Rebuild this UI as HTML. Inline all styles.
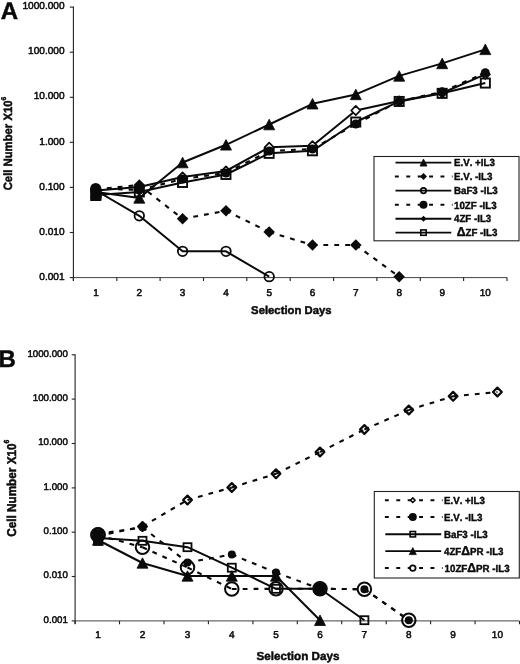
<!DOCTYPE html>
<html lang="en"><head><meta charset="utf-8"><title>Figure</title>
<style>
html,body{margin:0;padding:0;background:#fff;}
body{width:520px;height:664px;overflow:hidden;}
svg{display:block;filter:blur(.35px);}
svg text{font-family:"Liberation Sans",Arial,Helvetica,sans-serif;fill:#0a0a0a;text-rendering:geometricPrecision;}
.tk{stroke:#0a0a0a;stroke-width:.5px;paint-order:stroke;}
.bd{stroke:#0a0a0a;stroke-width:.45px;paint-order:stroke;}
.lg{font-kerning:none;stroke-width:.4px;}
</style></head><body>
<svg width="520" height="664" viewBox="0 0 520 664">
<rect width="520" height="664" fill="#fff"/>
<g stroke="#222" stroke-width="1.1" fill="none">
<path d="M73.4,6.6 V280.8"/>
<path d="M73.4,277.6 H507.0" stroke="#444" stroke-width="1"/>
<path d="M69.8,7.1 H73.4"/>
<path d="M69.8,52.2 H73.4"/>
<path d="M69.8,97.3 H73.4"/>
<path d="M69.8,142.3 H73.4"/>
<path d="M69.8,187.4 H73.4"/>
<path d="M69.8,232.5 H73.4"/>
<path d="M69.8,277.6 H73.4"/>
<path d="M73.4,277.6 v3.4"/>
<path d="M116.8,277.6 v3.4"/>
<path d="M160.1,277.6 v3.4"/>
<path d="M203.5,277.6 v3.4"/>
<path d="M246.8,277.6 v3.4"/>
<path d="M290.2,277.6 v3.4"/>
<path d="M333.6,277.6 v3.4"/>
<path d="M376.9,277.6 v3.4"/>
<path d="M420.3,277.6 v3.4"/>
<path d="M463.6,277.6 v3.4"/>
<path d="M507.0,277.6 v3.4"/>
</g>
<text x="64.6" y="9.2" font-size="10.1" font-weight="normal" text-anchor="end" class="tk">1000.000</text>
<text x="64.6" y="54.3" font-size="10.1" font-weight="normal" text-anchor="end" class="tk">100.000</text>
<text x="64.6" y="99.4" font-size="10.1" font-weight="normal" text-anchor="end" class="tk">10.000</text>
<text x="64.6" y="144.5" font-size="10.1" font-weight="normal" text-anchor="end" class="tk">1.000</text>
<text x="64.6" y="189.6" font-size="10.1" font-weight="normal" text-anchor="end" class="tk">0.100</text>
<text x="64.6" y="234.7" font-size="10.1" font-weight="normal" text-anchor="end" class="tk">0.010</text>
<text x="64.6" y="279.8" font-size="10.1" font-weight="normal" text-anchor="end" class="tk">0.001</text>
<text x="96.0" y="295.9" font-size="10" font-weight="normal" text-anchor="middle" class="tk">1</text>
<text x="139.3" y="295.9" font-size="10" font-weight="normal" text-anchor="middle" class="tk">2</text>
<text x="182.6" y="295.9" font-size="10" font-weight="normal" text-anchor="middle" class="tk">3</text>
<text x="226.0" y="295.9" font-size="10" font-weight="normal" text-anchor="middle" class="tk">4</text>
<text x="269.2" y="295.9" font-size="10" font-weight="normal" text-anchor="middle" class="tk">5</text>
<text x="312.5" y="295.9" font-size="10" font-weight="normal" text-anchor="middle" class="tk">6</text>
<text x="355.8" y="295.9" font-size="10" font-weight="normal" text-anchor="middle" class="tk">7</text>
<text x="399.2" y="295.9" font-size="10" font-weight="normal" text-anchor="middle" class="tk">8</text>
<text x="442.2" y="295.9" font-size="10" font-weight="normal" text-anchor="middle" class="tk">9</text>
<text x="485.3" y="295.9" font-size="10" font-weight="normal" text-anchor="middle" class="tk">10</text>
<text x="291.3" y="313.6" font-size="11.3" font-weight="bold" text-anchor="middle" class="bd">Selection Days</text>
<text class="bd" transform="translate(12.3,190.3) rotate(-90) scale(1,1.06)" font-size="11.3" font-weight="bold">Cell Number X10<tspan font-size="6.6" dy="-5.6">6</tspan></text>
<text x="0.8" y="18.8" font-size="24" font-weight="bold" text-anchor="start" class="bd">A</text>
<path d="M96.0,192.0 L139.3,198.0 L182.6,162.5 L226.0,144.8 L269.2,124.5 L312.5,103.8 L355.8,94.4 L399.2,75.9 L442.2,63.4 L485.3,49.4" fill="none" stroke="#0a0a0a" stroke-width="2.0" stroke-linejoin="round"/>
<path d="M96.0,189.3 L139.3,185.0" fill="none" stroke="#0a0a0a" stroke-width="2.1" stroke-dasharray="4.8 6.1"/>
<path d="M139.3,185.0 L182.6,218.8" fill="none" stroke="#0a0a0a" stroke-width="2.1" stroke-dasharray="4.8 6.1"/>
<path d="M182.6,218.8 L226.0,210.8" fill="none" stroke="#0a0a0a" stroke-width="2.1" stroke-dasharray="4.8 6.1"/>
<path d="M226.0,210.8 L269.2,232.0" fill="none" stroke="#0a0a0a" stroke-width="2.1" stroke-dasharray="4.8 6.1"/>
<path d="M269.2,232.0 L312.5,245.0" fill="none" stroke="#0a0a0a" stroke-width="2.1" stroke-dasharray="4.8 6.1"/>
<path d="M312.5,245.0 L355.8,245.0" fill="none" stroke="#0a0a0a" stroke-width="2.1" stroke-dasharray="4.8 6.1"/>
<path d="M355.8,245.0 L399.2,276.8" fill="none" stroke="#0a0a0a" stroke-width="2.1" stroke-dasharray="4.8 6.1"/>
<path d="M96.0,190.5 L139.3,215.8 L182.6,251.3 L226.0,251.3 L269.2,276.7" fill="none" stroke="#0a0a0a" stroke-width="2.0" stroke-linejoin="round"/>
<path d="M96.0,188.5 L139.3,190.0" fill="none" stroke="#0a0a0a" stroke-width="2.1" stroke-dasharray="4.8 6.1"/>
<path d="M139.3,190.0 L182.6,179.0" fill="none" stroke="#0a0a0a" stroke-width="2.1" stroke-dasharray="4.8 6.1"/>
<path d="M182.6,179.0 L226.0,173.0" fill="none" stroke="#0a0a0a" stroke-width="2.1" stroke-dasharray="4.8 6.1"/>
<path d="M226.0,173.0 L269.2,151.0" fill="none" stroke="#0a0a0a" stroke-width="2.1" stroke-dasharray="4.8 6.1"/>
<path d="M269.2,151.0 L312.5,149.0" fill="none" stroke="#0a0a0a" stroke-width="2.1" stroke-dasharray="4.8 6.1"/>
<path d="M312.5,149.0 L355.8,124.0" fill="none" stroke="#0a0a0a" stroke-width="2.1" stroke-dasharray="4.8 6.1"/>
<path d="M355.8,124.0 L399.2,101.3" fill="none" stroke="#0a0a0a" stroke-width="2.1" stroke-dasharray="4.8 6.1"/>
<path d="M399.2,101.3 L442.2,91.8" fill="none" stroke="#0a0a0a" stroke-width="2.1" stroke-dasharray="4.8 6.1"/>
<path d="M442.2,91.8 L485.3,72.8" fill="none" stroke="#0a0a0a" stroke-width="2.1" stroke-dasharray="4.8 6.1"/>
<path d="M96.0,190.5 L139.3,187.0 L182.6,177.0 L226.0,171.0 L269.2,147.3 L312.5,145.8 L355.8,110.5 L399.2,101.0 L442.2,93.0 L485.3,74.3" fill="none" stroke="#0a0a0a" stroke-width="2.0" stroke-linejoin="round"/>
<path d="M96.0,195.0 L139.3,192.0 L182.6,182.5 L226.0,174.5 L269.2,153.3 L312.5,150.8 L355.8,122.0 L399.2,101.4 L442.2,93.3 L485.3,83.0" fill="none" stroke="#0a0a0a" stroke-width="2.0" stroke-linejoin="round"/>
<path d="M96.0,185.8 L100.7,190.5 L96.0,195.2 L91.3,190.5Z" fill="#fff" stroke="#0a0a0a" stroke-width="1.7" stroke-linejoin="round"/>
<path d="M139.3,182.3 L144.0,187.0 L139.3,191.7 L134.7,187.0Z" fill="#fff" stroke="#0a0a0a" stroke-width="1.7" stroke-linejoin="round"/>
<path d="M182.6,172.3 L187.2,177.0 L182.6,181.7 L177.9,177.0Z" fill="#fff" stroke="#0a0a0a" stroke-width="1.7" stroke-linejoin="round"/>
<path d="M226.0,166.3 L230.7,171.0 L226.0,175.7 L221.3,171.0Z" fill="#fff" stroke="#0a0a0a" stroke-width="1.7" stroke-linejoin="round"/>
<path d="M269.2,142.7 L273.8,147.3 L269.2,152.0 L264.6,147.3Z" fill="#fff" stroke="#0a0a0a" stroke-width="1.7" stroke-linejoin="round"/>
<path d="M312.5,141.2 L317.1,145.8 L312.5,150.5 L307.9,145.8Z" fill="#fff" stroke="#0a0a0a" stroke-width="1.7" stroke-linejoin="round"/>
<path d="M355.8,105.8 L360.4,110.5 L355.8,115.2 L351.2,110.5Z" fill="#fff" stroke="#0a0a0a" stroke-width="1.7" stroke-linejoin="round"/>
<path d="M399.2,96.3 L403.8,101.0 L399.2,105.7 L394.6,101.0Z" fill="#fff" stroke="#0a0a0a" stroke-width="1.7" stroke-linejoin="round"/>
<path d="M442.2,88.3 L446.8,93.0 L442.2,97.7 L437.6,93.0Z" fill="#fff" stroke="#0a0a0a" stroke-width="1.7" stroke-linejoin="round"/>
<path d="M485.3,69.6 L489.9,74.3 L485.3,79.0 L480.7,74.3Z" fill="#fff" stroke="#0a0a0a" stroke-width="1.7" stroke-linejoin="round"/>
<circle cx="96.0" cy="188.5" r="4.50" fill="#0a0a0a" stroke="#0a0a0a" stroke-width="0"/>
<circle cx="139.3" cy="190.0" r="4.50" fill="#0a0a0a" stroke="#0a0a0a" stroke-width="0"/>
<circle cx="182.6" cy="179.0" r="4.50" fill="#0a0a0a" stroke="#0a0a0a" stroke-width="0"/>
<circle cx="226.0" cy="173.0" r="4.50" fill="#0a0a0a" stroke="#0a0a0a" stroke-width="0"/>
<circle cx="269.2" cy="151.0" r="4.50" fill="#0a0a0a" stroke="#0a0a0a" stroke-width="0"/>
<circle cx="312.5" cy="149.0" r="4.50" fill="#0a0a0a" stroke="#0a0a0a" stroke-width="0"/>
<circle cx="355.8" cy="124.0" r="4.50" fill="#0a0a0a" stroke="#0a0a0a" stroke-width="0"/>
<circle cx="399.2" cy="101.3" r="4.50" fill="#0a0a0a" stroke="#0a0a0a" stroke-width="0"/>
<circle cx="442.2" cy="91.8" r="4.50" fill="#0a0a0a" stroke="#0a0a0a" stroke-width="0"/>
<circle cx="485.3" cy="72.8" r="4.50" fill="#0a0a0a" stroke="#0a0a0a" stroke-width="0"/>
<rect x="91.5" y="190.4" width="9.1" height="9.1" fill="none" stroke="#0a0a0a" stroke-width="1.9"/>
<rect x="134.8" y="187.4" width="9.1" height="9.1" fill="none" stroke="#0a0a0a" stroke-width="1.9"/>
<rect x="178.0" y="177.9" width="9.1" height="9.1" fill="none" stroke="#0a0a0a" stroke-width="1.9"/>
<rect x="221.4" y="169.9" width="9.1" height="9.1" fill="none" stroke="#0a0a0a" stroke-width="1.9"/>
<rect x="264.6" y="148.8" width="9.1" height="9.1" fill="none" stroke="#0a0a0a" stroke-width="1.9"/>
<rect x="307.9" y="146.2" width="9.1" height="9.1" fill="none" stroke="#0a0a0a" stroke-width="1.9"/>
<rect x="351.2" y="117.5" width="9.1" height="9.1" fill="none" stroke="#0a0a0a" stroke-width="1.9"/>
<rect x="394.6" y="96.9" width="9.1" height="9.1" fill="none" stroke="#0a0a0a" stroke-width="1.9"/>
<rect x="437.6" y="88.8" width="9.1" height="9.1" fill="none" stroke="#0a0a0a" stroke-width="1.9"/>
<rect x="480.8" y="78.5" width="9.1" height="9.1" fill="none" stroke="#0a0a0a" stroke-width="1.9"/>
<circle cx="96.0" cy="190.5" r="4.75" fill="none" stroke="#0a0a0a" stroke-width="1.8"/>
<circle cx="139.3" cy="215.8" r="4.75" fill="none" stroke="#0a0a0a" stroke-width="1.8"/>
<circle cx="182.6" cy="251.3" r="4.75" fill="none" stroke="#0a0a0a" stroke-width="1.8"/>
<circle cx="226.0" cy="251.3" r="4.75" fill="none" stroke="#0a0a0a" stroke-width="1.8"/>
<circle cx="269.2" cy="276.7" r="4.75" fill="none" stroke="#0a0a0a" stroke-width="1.8"/>
<path d="M96.0,183.6 L101.8,189.3 L96.0,195.1 L90.2,189.3Z" fill="#0a0a0a" stroke="#0a0a0a" stroke-width="0" stroke-linejoin="round"/>
<path d="M139.3,179.2 L145.1,185.0 L139.3,190.8 L133.6,185.0Z" fill="#0a0a0a" stroke="#0a0a0a" stroke-width="0" stroke-linejoin="round"/>
<path d="M182.6,213.1 L188.3,218.8 L182.6,224.6 L176.8,218.8Z" fill="#0a0a0a" stroke="#0a0a0a" stroke-width="0" stroke-linejoin="round"/>
<path d="M226.0,205.1 L231.8,210.8 L226.0,216.6 L220.2,210.8Z" fill="#0a0a0a" stroke="#0a0a0a" stroke-width="0" stroke-linejoin="round"/>
<path d="M269.2,226.2 L274.9,232.0 L269.2,237.8 L263.4,232.0Z" fill="#0a0a0a" stroke="#0a0a0a" stroke-width="0" stroke-linejoin="round"/>
<path d="M312.5,239.2 L318.2,245.0 L312.5,250.8 L306.8,245.0Z" fill="#0a0a0a" stroke="#0a0a0a" stroke-width="0" stroke-linejoin="round"/>
<path d="M355.8,239.2 L361.6,245.0 L355.8,250.8 L350.1,245.0Z" fill="#0a0a0a" stroke="#0a0a0a" stroke-width="0" stroke-linejoin="round"/>
<path d="M399.2,271.1 L404.9,276.8 L399.2,282.6 L393.4,276.8Z" fill="#0a0a0a" stroke="#0a0a0a" stroke-width="0" stroke-linejoin="round"/>
<path d="M96.0,186.8 L101.5,197.2 L90.5,197.2Z" fill="#0a0a0a" stroke="#0a0a0a" stroke-width="0.8" stroke-linejoin="round"/>
<path d="M139.3,192.8 L144.8,203.2 L133.8,203.2Z" fill="#0a0a0a" stroke="#0a0a0a" stroke-width="0.8" stroke-linejoin="round"/>
<path d="M182.6,157.2 L188.1,167.8 L177.1,167.8Z" fill="#0a0a0a" stroke="#0a0a0a" stroke-width="0.8" stroke-linejoin="round"/>
<path d="M226.0,139.6 L231.5,150.1 L220.5,150.1Z" fill="#0a0a0a" stroke="#0a0a0a" stroke-width="0.8" stroke-linejoin="round"/>
<path d="M269.2,119.2 L274.7,129.8 L263.7,129.8Z" fill="#0a0a0a" stroke="#0a0a0a" stroke-width="0.8" stroke-linejoin="round"/>
<path d="M312.5,98.5 L318.0,109.0 L307.0,109.0Z" fill="#0a0a0a" stroke="#0a0a0a" stroke-width="0.8" stroke-linejoin="round"/>
<path d="M355.8,89.2 L361.3,99.7 L350.3,99.7Z" fill="#0a0a0a" stroke="#0a0a0a" stroke-width="0.8" stroke-linejoin="round"/>
<path d="M399.2,70.7 L404.7,81.2 L393.7,81.2Z" fill="#0a0a0a" stroke="#0a0a0a" stroke-width="0.8" stroke-linejoin="round"/>
<path d="M442.2,58.1 L447.7,68.7 L436.7,68.7Z" fill="#0a0a0a" stroke="#0a0a0a" stroke-width="0.8" stroke-linejoin="round"/>
<path d="M485.3,44.1 L490.8,54.6 L479.8,54.6Z" fill="#0a0a0a" stroke="#0a0a0a" stroke-width="0.8" stroke-linejoin="round"/>
<rect x="90.3" y="188" width="10.8" height="13" fill="#0a0a0a"/>
<circle cx="95.7" cy="188.5" r="5.50" fill="#0a0a0a" stroke="#0a0a0a" stroke-width="0"/>
<rect x="374" y="156.5" width="145" height="84.3" fill="#fff" stroke="#222" stroke-width="1.1"/>
<path d="M395.5,162.6 H451.3" stroke="#0a0a0a" stroke-width="1.9"/>
<path d="M423.5,159.1 L427.0,166.1 L420.0,166.1Z" fill="#0a0a0a" stroke="#0a0a0a" stroke-width="0.8" stroke-linejoin="round"/>
<text class="bd lg" transform="translate(454.0,166.3) scale(1,1.06)" font-size="9.72" font-weight="bold">E.V. +IL3</text>
<path d="M394.9,176.6 H452.6" stroke="#0a0a0a" stroke-width="2" stroke-dasharray="3.9 7.5"/>
<path d="M423.5,173.1 L427.0,176.6 L423.5,180.1 L420.0,176.6Z" fill="#0a0a0a" stroke="#0a0a0a" stroke-width="0" stroke-linejoin="round"/>
<text class="bd lg" transform="translate(454.0,180.3) scale(1,1.06)" font-size="9.72" font-weight="bold">E.V. -IL3</text>
<path d="M395.5,190.6 H451.3" stroke="#0a0a0a" stroke-width="1.9"/>
<circle cx="423.5" cy="190.6" r="2.75" fill="none" stroke="#0a0a0a" stroke-width="1.7"/>
<text class="bd lg" transform="translate(454.0,194.3) scale(1,1.06)" font-size="9.72" font-weight="bold">BaF3 -IL3</text>
<path d="M394.9,204.8 H452.6" stroke="#0a0a0a" stroke-width="2" stroke-dasharray="3.9 7.5"/>
<circle cx="423.5" cy="204.8" r="4.00" fill="#0a0a0a" stroke="#0a0a0a" stroke-width="0"/>
<text class="bd lg" transform="translate(454.0,208.5) scale(1,1.06)" font-size="9.72" font-weight="bold">10ZF -IL3</text>
<path d="M395.5,218.7 H451.3" stroke="#0a0a0a" stroke-width="1.9"/>
<path d="M423.5,215.7 L426.5,218.7 L423.5,221.7 L420.5,218.7Z" fill="#0a0a0a" stroke="#0a0a0a" stroke-width="0" stroke-linejoin="round"/>
<text class="bd lg" transform="translate(454.0,222.4) scale(1,1.06)" font-size="9.72" font-weight="bold">4ZF -IL3</text>
<path d="M395.5,232.6 H451.3" stroke="#0a0a0a" stroke-width="1.9"/>
<rect x="420.8" y="229.9" width="5.4" height="5.4" fill="none" stroke="#0a0a0a" stroke-width="1.6"/>
<text class="bd lg" transform="translate(456.7,236.3) scale(1,1.06)" font-size="9.72" font-weight="bold"><tspan font-size="12.2">Δ</tspan>ZF -IL3</text>
<g stroke="#222" stroke-width="1.1" fill="none">
<path d="M75.1,354.3 V624.1"/>
<path d="M75.1,620.9 H519.5" stroke="#444" stroke-width="1"/>
<path d="M71.7,354.8 H75.1"/>
<path d="M71.7,399.1 H75.1"/>
<path d="M71.7,443.5 H75.1"/>
<path d="M71.7,487.9 H75.1"/>
<path d="M71.7,532.2 H75.1"/>
<path d="M71.7,576.5 H75.1"/>
<path d="M71.7,620.9 H75.1"/>
<path d="M75.1,620.9 v3.4"/>
<path d="M119.5,620.9 v3.4"/>
<path d="M164.0,620.9 v3.4"/>
<path d="M208.4,620.9 v3.4"/>
<path d="M252.9,620.9 v3.4"/>
<path d="M297.3,620.9 v3.4"/>
<path d="M341.7,620.9 v3.4"/>
<path d="M386.2,620.9 v3.4"/>
<path d="M430.6,620.9 v3.4"/>
<path d="M475.1,620.9 v3.4"/>
<path d="M519.5,620.9 v3.4"/>
</g>
<text x="67.8" y="356.7" font-size="9.7" font-weight="normal" text-anchor="end" class="tk">1000.000</text>
<text x="67.8" y="401.0" font-size="9.7" font-weight="normal" text-anchor="end" class="tk">100.000</text>
<text x="67.8" y="445.4" font-size="9.7" font-weight="normal" text-anchor="end" class="tk">10.000</text>
<text x="67.8" y="489.8" font-size="9.7" font-weight="normal" text-anchor="end" class="tk">1.000</text>
<text x="67.8" y="534.1" font-size="9.7" font-weight="normal" text-anchor="end" class="tk">0.100</text>
<text x="67.8" y="578.4" font-size="9.7" font-weight="normal" text-anchor="end" class="tk">0.010</text>
<text x="67.8" y="622.8" font-size="9.7" font-weight="normal" text-anchor="end" class="tk">0.001</text>
<text x="98.0" y="638.2" font-size="10" font-weight="normal" text-anchor="middle" class="tk">1</text>
<text x="142.5" y="638.2" font-size="10" font-weight="normal" text-anchor="middle" class="tk">2</text>
<text x="187.5" y="638.2" font-size="10" font-weight="normal" text-anchor="middle" class="tk">3</text>
<text x="231.8" y="638.2" font-size="10" font-weight="normal" text-anchor="middle" class="tk">4</text>
<text x="276.0" y="638.2" font-size="10" font-weight="normal" text-anchor="middle" class="tk">5</text>
<text x="320.0" y="638.2" font-size="10" font-weight="normal" text-anchor="middle" class="tk">6</text>
<text x="364.4" y="638.2" font-size="10" font-weight="normal" text-anchor="middle" class="tk">7</text>
<text x="408.8" y="638.2" font-size="10" font-weight="normal" text-anchor="middle" class="tk">8</text>
<text x="453.1" y="638.2" font-size="10" font-weight="normal" text-anchor="middle" class="tk">9</text>
<text x="497.4" y="638.2" font-size="10" font-weight="normal" text-anchor="middle" class="tk">10</text>
<text x="298.0" y="659.9" font-size="11.65" font-weight="bold" text-anchor="middle" class="bd">Selection Days</text>
<text class="bd" transform="translate(15.7,536.8) rotate(-90) scale(1,1.09)" font-size="11.75" font-weight="bold">Cell Number X10<tspan font-size="6.8" dy="-5.8">6</tspan></text>
<text x="-1.4" y="366.9" font-size="24" font-weight="bold" text-anchor="start" class="bd">B</text>
<path d="M98.0,536.0 L142.5,526.5" fill="none" stroke="#0a0a0a" stroke-width="2.1" stroke-dasharray="4.8 6.1"/>
<path d="M142.5,526.5 L187.5,500.0" fill="none" stroke="#0a0a0a" stroke-width="2.1" stroke-dasharray="4.8 6.1"/>
<path d="M187.5,500.0 L231.8,487.5" fill="none" stroke="#0a0a0a" stroke-width="2.1" stroke-dasharray="4.8 6.1"/>
<path d="M231.8,487.5 L276.0,473.8" fill="none" stroke="#0a0a0a" stroke-width="2.1" stroke-dasharray="4.8 6.1"/>
<path d="M276.0,473.8 L320.0,452.0" fill="none" stroke="#0a0a0a" stroke-width="2.1" stroke-dasharray="4.8 6.1"/>
<path d="M320.0,452.0 L364.4,429.5" fill="none" stroke="#0a0a0a" stroke-width="2.1" stroke-dasharray="4.8 6.1"/>
<path d="M364.4,429.5 L408.8,410.0" fill="none" stroke="#0a0a0a" stroke-width="2.1" stroke-dasharray="4.8 6.1"/>
<path d="M408.8,410.0 L453.1,396.3" fill="none" stroke="#0a0a0a" stroke-width="2.1" stroke-dasharray="4.8 6.1"/>
<path d="M453.1,396.3 L497.4,392.0" fill="none" stroke="#0a0a0a" stroke-width="2.1" stroke-dasharray="4.8 6.1"/>
<path d="M98.0,534.0 L142.5,527.3" fill="none" stroke="#0a0a0a" stroke-width="2.1" stroke-dasharray="4.8 6.1"/>
<path d="M142.5,527.3 L187.5,562.5" fill="none" stroke="#0a0a0a" stroke-width="2.1" stroke-dasharray="4.8 6.1"/>
<path d="M187.5,562.5 L231.8,554.5" fill="none" stroke="#0a0a0a" stroke-width="2.1" stroke-dasharray="4.8 6.1"/>
<path d="M231.8,554.5 L276.0,572.6" fill="none" stroke="#0a0a0a" stroke-width="2.1" stroke-dasharray="4.8 6.1"/>
<path d="M276.0,572.6 L320.0,588.8" fill="none" stroke="#0a0a0a" stroke-width="2.1" stroke-dasharray="4.8 6.1"/>
<path d="M320.0,588.8 L364.4,589.2" fill="none" stroke="#0a0a0a" stroke-width="2.1" stroke-dasharray="4.8 6.1"/>
<path d="M364.4,589.2 L408.8,620.2" fill="none" stroke="#0a0a0a" stroke-width="2.1" stroke-dasharray="4.8 6.1"/>
<path d="M98.0,538.0 L142.5,540.8 L187.5,547.2 L231.8,567.7 L276.0,588.8 L320.0,588.8 L364.4,620.2" fill="none" stroke="#0a0a0a" stroke-width="2.0" stroke-linejoin="round"/>
<path d="M98.0,540.0 L142.5,563.0 L187.5,576.0 L231.8,576.0 L276.0,576.0 L320.0,620.2" fill="none" stroke="#0a0a0a" stroke-width="2.0" stroke-linejoin="round"/>
<path d="M98.0,535.0 L142.5,547.3" fill="none" stroke="#0a0a0a" stroke-width="2.1" stroke-dasharray="4.8 6.1"/>
<path d="M142.5,547.3 L187.5,567.5" fill="none" stroke="#0a0a0a" stroke-width="2.1" stroke-dasharray="4.8 6.1"/>
<path d="M187.5,567.5 L231.8,589.0" fill="none" stroke="#0a0a0a" stroke-width="2.1" stroke-dasharray="4.8 6.1"/>
<path d="M231.8,589.0 L276.0,588.8" fill="none" stroke="#0a0a0a" stroke-width="2.1" stroke-dasharray="4.8 6.1"/>
<path d="M276.0,588.8 L320.0,588.8" fill="none" stroke="#0a0a0a" stroke-width="2.1" stroke-dasharray="4.8 6.1"/>
<path d="M320.0,588.8 L364.4,589.2" fill="none" stroke="#0a0a0a" stroke-width="2.1" stroke-dasharray="4.8 6.1"/>
<path d="M364.4,589.2 L408.8,620.2" fill="none" stroke="#0a0a0a" stroke-width="2.1" stroke-dasharray="4.8 6.1"/>
<circle cx="98.0" cy="535.0" r="6.75" fill="none" stroke="#0a0a0a" stroke-width="2"/>
<circle cx="142.5" cy="547.3" r="6.75" fill="none" stroke="#0a0a0a" stroke-width="2"/>
<circle cx="187.5" cy="567.5" r="6.75" fill="none" stroke="#0a0a0a" stroke-width="2"/>
<circle cx="231.8" cy="589.0" r="6.75" fill="none" stroke="#0a0a0a" stroke-width="2"/>
<circle cx="276.0" cy="588.8" r="6.75" fill="none" stroke="#0a0a0a" stroke-width="2"/>
<circle cx="320.0" cy="588.8" r="6.75" fill="none" stroke="#0a0a0a" stroke-width="2"/>
<circle cx="364.4" cy="589.2" r="6.75" fill="none" stroke="#0a0a0a" stroke-width="2"/>
<circle cx="408.8" cy="620.2" r="6.75" fill="none" stroke="#0a0a0a" stroke-width="2"/>
<rect x="94.0" y="534.0" width="8.0" height="8.0" fill="none" stroke="#0a0a0a" stroke-width="1.8"/>
<rect x="138.5" y="536.8" width="8.0" height="8.0" fill="none" stroke="#0a0a0a" stroke-width="1.8"/>
<rect x="183.5" y="543.2" width="8.0" height="8.0" fill="none" stroke="#0a0a0a" stroke-width="1.8"/>
<rect x="227.8" y="563.7" width="8.0" height="8.0" fill="none" stroke="#0a0a0a" stroke-width="1.8"/>
<rect x="272.0" y="584.8" width="8.0" height="8.0" fill="none" stroke="#0a0a0a" stroke-width="1.8"/>
<rect x="316.0" y="584.8" width="8.0" height="8.0" fill="none" stroke="#0a0a0a" stroke-width="1.8"/>
<rect x="360.4" y="616.2" width="8.0" height="8.0" fill="none" stroke="#0a0a0a" stroke-width="1.8"/>
<path d="M98.0,534.8 L103.5,545.2 L92.5,545.2Z" fill="#0a0a0a" stroke="#0a0a0a" stroke-width="0.8" stroke-linejoin="round"/>
<path d="M142.5,557.8 L148.0,568.2 L137.0,568.2Z" fill="#0a0a0a" stroke="#0a0a0a" stroke-width="0.8" stroke-linejoin="round"/>
<path d="M187.5,570.8 L193.0,581.2 L182.0,581.2Z" fill="#0a0a0a" stroke="#0a0a0a" stroke-width="0.8" stroke-linejoin="round"/>
<path d="M231.8,570.8 L237.3,581.2 L226.3,581.2Z" fill="#0a0a0a" stroke="#0a0a0a" stroke-width="0.8" stroke-linejoin="round"/>
<path d="M276.0,570.8 L281.5,581.2 L270.5,581.2Z" fill="#0a0a0a" stroke="#0a0a0a" stroke-width="0.8" stroke-linejoin="round"/>
<path d="M320.0,615.0 L325.5,625.5 L314.5,625.5Z" fill="#0a0a0a" stroke="#0a0a0a" stroke-width="0.8" stroke-linejoin="round"/>
<path d="M98.0,531.6 L102.4,536.0 L98.0,540.4 L93.6,536.0Z" fill="none" stroke="#0a0a0a" stroke-width="2.2" stroke-linejoin="round"/>
<path d="M142.5,522.1 L146.9,526.5 L142.5,530.9 L138.1,526.5Z" fill="none" stroke="#0a0a0a" stroke-width="2.2" stroke-linejoin="round"/>
<path d="M187.5,495.6 L191.9,500.0 L187.5,504.4 L183.1,500.0Z" fill="none" stroke="#0a0a0a" stroke-width="2.2" stroke-linejoin="round"/>
<path d="M231.8,483.1 L236.2,487.5 L231.8,491.9 L227.4,487.5Z" fill="none" stroke="#0a0a0a" stroke-width="2.2" stroke-linejoin="round"/>
<path d="M276.0,469.4 L280.4,473.8 L276.0,478.2 L271.6,473.8Z" fill="none" stroke="#0a0a0a" stroke-width="2.2" stroke-linejoin="round"/>
<path d="M320.0,447.6 L324.4,452.0 L320.0,456.4 L315.6,452.0Z" fill="none" stroke="#0a0a0a" stroke-width="2.2" stroke-linejoin="round"/>
<path d="M364.4,425.1 L368.8,429.5 L364.4,433.9 L360.0,429.5Z" fill="none" stroke="#0a0a0a" stroke-width="2.2" stroke-linejoin="round"/>
<path d="M408.8,405.6 L413.2,410.0 L408.8,414.4 L404.4,410.0Z" fill="none" stroke="#0a0a0a" stroke-width="2.2" stroke-linejoin="round"/>
<path d="M453.1,391.9 L457.5,396.3 L453.1,400.7 L448.7,396.3Z" fill="none" stroke="#0a0a0a" stroke-width="2.2" stroke-linejoin="round"/>
<path d="M497.4,387.6 L501.8,392.0 L497.4,396.4 L493.0,392.0Z" fill="none" stroke="#0a0a0a" stroke-width="2.2" stroke-linejoin="round"/>
<circle cx="98.0" cy="534.0" r="4.00" fill="#0a0a0a" stroke="#0a0a0a" stroke-width="0"/>
<circle cx="142.5" cy="527.3" r="4.00" fill="#0a0a0a" stroke="#0a0a0a" stroke-width="0"/>
<circle cx="187.5" cy="562.5" r="4.00" fill="#0a0a0a" stroke="#0a0a0a" stroke-width="0"/>
<circle cx="231.8" cy="554.5" r="4.00" fill="#0a0a0a" stroke="#0a0a0a" stroke-width="0"/>
<circle cx="276.0" cy="572.6" r="4.00" fill="#0a0a0a" stroke="#0a0a0a" stroke-width="0"/>
<circle cx="320.0" cy="588.8" r="4.00" fill="#0a0a0a" stroke="#0a0a0a" stroke-width="0"/>
<circle cx="364.4" cy="589.2" r="4.00" fill="#0a0a0a" stroke="#0a0a0a" stroke-width="0"/>
<circle cx="408.8" cy="620.2" r="4.00" fill="#0a0a0a" stroke="#0a0a0a" stroke-width="0"/>
<circle cx="98.0" cy="534.8" r="6.50" fill="none" stroke="#0a0a0a" stroke-width="2.4"/>
<circle cx="98.0" cy="534.6" r="5.30" fill="#0a0a0a" stroke="#0a0a0a" stroke-width="0"/>
<rect x="93.1" y="530" width="9.8" height="15.8" rx="1" fill="#0a0a0a"/>
<circle cx="320.0" cy="588.8" r="7.25" fill="#0a0a0a" stroke="#0a0a0a" stroke-width="0"/>
<rect x="374.3" y="491.5" width="145" height="86.5" fill="#fff" stroke="#222" stroke-width="1.1"/>
<path d="M384.9,500.2 H442.6" stroke="#0a0a0a" stroke-width="2" stroke-dasharray="3.9 7.5"/>
<path d="M412.8,497.9 L415.1,500.2 L412.8,502.5 L410.5,500.2Z" fill="#fff" stroke="#0a0a0a" stroke-width="1.6" stroke-linejoin="round"/>
<text class="bd lg" transform="translate(444.0,503.9) scale(1,1.06)" font-size="9.72" font-weight="bold">E.V. +IL3</text>
<path d="M384.9,517 H442.6" stroke="#0a0a0a" stroke-width="2" stroke-dasharray="3.9 7.5"/>
<circle cx="412.8" cy="517.0" r="4.00" fill="#0a0a0a" stroke="#0a0a0a" stroke-width="0"/>
<text class="bd lg" transform="translate(444.0,520.7) scale(1,1.06)" font-size="9.72" font-weight="bold">E.V. -IL3</text>
<path d="M385.3,534.2 H441.2" stroke="#0a0a0a" stroke-width="1.9"/>
<rect x="410.1" y="531.5" width="5.4" height="5.4" fill="none" stroke="#0a0a0a" stroke-width="1.6"/>
<text class="bd lg" transform="translate(444.0,537.9) scale(1,1.06)" font-size="9.72" font-weight="bold">BaF3 -IL3</text>
<path d="M385.3,551.1 H441.2" stroke="#0a0a0a" stroke-width="1.9"/>
<path d="M412.8,547.6 L416.3,554.6 L409.3,554.6Z" fill="#0a0a0a" stroke="#0a0a0a" stroke-width="0.8" stroke-linejoin="round"/>
<text class="bd lg" transform="translate(444.0,554.8) scale(1,1.06)" font-size="9.72" font-weight="bold">4ZF<tspan font-size="12.2">Δ</tspan>PR -IL3</text>
<path d="M384.9,568.1 H442.6" stroke="#0a0a0a" stroke-width="2" stroke-dasharray="3.9 7.5"/>
<circle cx="412.8" cy="568.1" r="2.80" fill="#fff" stroke="#0a0a0a" stroke-width="1.8"/>
<text class="bd lg" transform="translate(444.6,571.8) scale(1,1.06)" font-size="9.72" font-weight="bold">10ZF<tspan font-size="12.2">Δ</tspan>PR -IL3</text>
</svg></body></html>
